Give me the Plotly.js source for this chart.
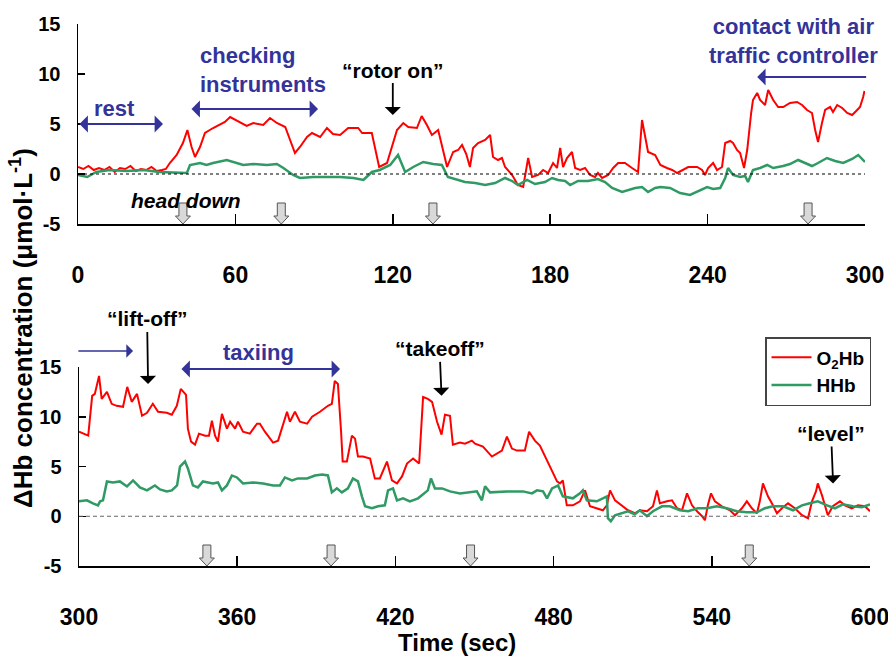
<!DOCTYPE html>
<html>
<head>
<meta charset="utf-8">
<script src="https://cdn.plot.ly/plotly-3.0.1.min.js"></script>
<style>html,body{margin:0;padding:0;background:#fff;}#chart{width:888px;height:656px;}</style>
</head>
<body>
<div id="chart"></div>
<script>
// ---------- DATA ----------
const topTime = [0,2,4,6,8,10,12,14,16,18,20,22,24,26,28,30,32,33.5,35,37.6,40,41.7,43.3,44.6,46.5,48.4,51.5,54,56,58,61.8,64.3,66.8,70.6,73.2,75.8,79,80.8,82.7,84.6,87.3,89.2,92.3,94.9,97.2,99.9,103,106.8,108.3,112,113.2,114.8,117.8,119.7,121.6,124,125.9,129.2,131,133,134.9,137.3,139.2,140.7,143,144.9,146.4,148,149.4,150.6,152.5,155.2,157.1,158.2,160.1,161.6,162.8,165.5,167.7,169.7,171.6,173.1,175.4,177.3,179.2,181.1,182.6,183.8,184.9,186.4,188.3,189.5,191.4,193.3,195.2,197.1,198.2,199.8,202.1,204,205.9,208.5,211.2,213.5,215,216.2,217.3,220,221.1,222,224.5,226.5,228.4,230.6,232.6,236,237.9,239,240.2,242.1,243.6,245.5,246.7,248.6,249.7,251.2,252.4,253.9,255.1,256.6,257.3,258.9,260,261.9,263.1,265,266.9,268.8,271.4,274.1,276,277.9,279.8,281,282.1,283.6,284.8,286.7,287.8,289.4,291.3,293.2,295.1,297,298.1,299.3,299.8];
const topO2Hb = [0.7,0.5,0.8,0.4,0.6,0.4,0.7,0.2,0.6,0.5,0.8,0.3,0.5,0.4,0.7,0.3,0.4,0.5,1.1,1.9,3.1,4.4,2.7,1.7,2.7,4.1,4.6,4.9,5.2,5.7,5.2,4.8,5.1,4.9,5.6,5.1,4.7,3.4,2.1,2.7,3.7,4.1,3.7,4.6,4.0,3.9,4.6,4.6,4.1,4.1,2.7,0.7,1.1,2.7,4.4,5.1,4.7,4.6,5.8,4.9,3.9,4.4,2.4,0.7,2.2,2.4,2.9,2.0,0.7,2.6,3.1,3.4,3.9,1.7,1.4,1.6,0.7,-0.1,-1.1,-1.3,1.6,-0.3,-0.1,0.4,0.1,1.1,0.6,2.6,0.7,1.6,2.2,0.6,0.4,0.6,-0.1,-0.3,0.1,-0.4,-0.1,0.6,1.1,1.1,0.6,0.2,5.4,3.7,2.2,1.9,1.4,0.9,0.6,0.4,0.1,0.4,0.7,0.7,0.4,-0.1,0.6,1.1,0.4,0.7,3.1,3.3,3.1,2.4,2.1,0.6,2.4,6.1,7.4,8.1,7.4,6.9,8.4,7.4,6.7,6.7,7.1,7.2,6.9,6.4,6.1,4.4,3.2,5.1,6.4,6.7,6.2,6.9,6.6,6.1,5.9,6.4,6.7,7.7,8.3];

const topHHbTime = [0,3.5,7,12,18.6,25,31,37.6,41.5,42.7,46.5,49,51.5,56.7,59,63,66.8,72,75.8,78.3,82,84.6,89.7,94.9,99.9,105,108.8,110,112,115,119,122,124.7,127.8,131.6,135.4,138.7,141,144.5,147.5,151.4,155.2,159,162.8,165.5,167.7,171.2,174.2,178,180.7,183,185.7,187.6,190.6,194.4,198.2,200.9,203.6,207.4,209.7,212.4,215,217.3,220,222,225.7,229.5,233.3,236,239.8,242.1,244.8,246.7,247.8,249.7,252.4,254.3,255.4,257.3,260,262.7,265,268.8,271.4,274.5,276.4,279.8,282.1,285.5,288.6,291.7,295.1,297.4,300];
const topHHb = [-0.1,-0.3,0.2,0.4,0.3,0.4,0.2,0.1,0.1,0.9,1.1,0.9,1.1,1.4,1.2,0.9,1.0,0.9,1.0,0.6,-0.1,-0.4,-0.3,-0.3,-0.3,-0.4,-0.6,-0.3,0.2,0.4,0.9,1.9,0.2,0.7,1.2,1.0,0.9,-0.3,-0.6,-0.8,-0.9,-1.1,-0.9,-0.4,-0.7,-1.1,-0.6,-1.0,-0.8,-0.4,-0.6,-0.7,-1.1,-0.7,-0.7,-0.5,-0.8,-1.4,-1.8,-1.6,-1.4,-1.3,-1.8,-1.4,-1.3,-1.4,-1.9,-2.1,-1.8,-1.3,-1.5,-1.4,-0.4,0.6,-0.1,-0.3,-0.2,-0.8,0.4,0.6,0.9,0.6,0.8,1.0,1.4,1.2,0.8,1.1,1.6,1.3,1.1,1.5,1.9,1.2];

const botTime = [300,303.5,305,306,307.6,308.6,310.6,312.4,314.3,316.7,318.3,320,322,323.9,325.8,328,330,333.3,335.2,337.1,338.6,340.6,341.3,342.5,344,345.5,347.8,349.3,350.4,351.6,352.7,354.2,356.1,357.3,359.2,360.3,362.2,364.8,367.5,368.6,370.5,373.6,375.5,378.9,380,381.9,383.8,386.5,388.4,391.4,394.4,395.9,397,398.2,399.4,400,401.6,403.5,404.7,405.8,407.7,410.4,412.2,414.1,416.8,418.7,420.6,422.5,424.4,426.7,429,430.5,432.3,433.9,435.8,437.5,438.8,439.9,440.7,441.8,444.5,446.4,449,450.2,453.2,456.6,458.5,460.4,462.3,464.2,466.1,469.1,470.7,472.9,474.8,477.5,479.7,481.3,482.4,483.5,485,487.3,490,491.9,493.8,496.4,498.7,500.2,501.4,503.3,505.9,508.2,510.8,512.7,515.4,517.7,519.2,520.3,523,524.9,526.8,528.7,530.6,532.5,534.4,536.3,537.4,538.5,539.7,541.2,543.8,546.9,548.8,551.4,553.3,555.2,557.1,558.2,559.4,561.3,563.2,564.7,566.6,568.9,571.5,574.2,576.5,578,579.5,580.2,581.8,584,585.9,588.6,590.5,593.1,595.4,598.1,600];
const botO2Hb = [8.5,8.1,12.1,12.3,14.1,11.8,12.5,11.3,11.1,11.0,13.0,11.5,12.3,10.1,10.4,11.3,10.5,10.4,10.2,11.1,12.8,12.2,8.8,7.5,7.2,8.3,8.1,8.1,9.6,8.1,7.5,10.3,8.8,9.5,8.8,9.5,8.5,8.3,9.3,9.3,8.5,7.4,7.6,10.5,9.5,10.5,9.5,9.3,10.0,10.5,11.1,11.3,13.6,13.3,8.5,5.5,5.5,8.1,7.8,6.0,6.0,5.8,3.8,3.8,5.5,3.6,3.3,4.0,5.3,5.8,5.3,12.0,11.8,11.5,9.5,8.2,10.2,10.1,10.1,7.2,7.4,7.3,7.6,7.3,7.0,6.0,6.3,6.6,8.0,6.8,6.6,6.6,8.5,7.6,7.1,5.6,4.5,3.5,3.3,3.6,1.1,1.1,1.5,2.6,1.0,0.8,0.6,1.1,2.6,1.6,1.1,0.6,0.3,0.6,0.5,1.0,2.6,1.3,1.5,1.6,0.8,0.6,2.3,1.1,0.5,0.0,-0.4,1.1,2.3,1.5,1.0,0.6,0.1,0.8,1.5,0.8,0.3,1.5,3.3,2.0,1.1,0.3,0.8,1.3,0.8,0.1,-0.2,1.5,2.5,3.3,2.1,0.1,1.0,1.5,1.1,0.8,1.1,1.0,0.5];

const botHHbTime = [300,303,305.3,307.2,308,309.1,310.6,312.9,315.5,318.2,320.5,323.1,325.8,328.8,330.7,333.3,335.2,337.2,338.3,340.2,341.3,343.2,345.1,347,350.8,352.7,354.2,356.1,358,359.9,362.2,366,369.8,373.6,376.2,378.1,380.8,383,386.5,389.5,392.2,394.4,395.9,397.8,399.7,402,403.9,405.8,407.3,408.5,411.1,413.4,416,417.2,419.1,420.6,422.9,425.5,428.6,431.2,432.3,433.5,435,437.7,440.7,444.5,448.3,450.9,452.8,454,455.9,462.3,468.4,471.8,473.7,476,477.5,479.4,481.7,483.5,487.3,490,491.1,492.6,496.4,498.7,500.2,500.6,501.7,503.3,505.9,508.2,510.8,512.7,515.4,517.7,521.1,524.1,527.9,531,534.7,538.1,541.9,545.7,549.5,553.3,557.1,560.1,563.2,567,570.8,574.2,577.2,580.2,583.7,586.7,589.7,593.5,596.9,600];
const botHHb = [1.5,1.6,1.3,1.1,1.5,1.6,3.5,3.4,3.5,3.0,3.6,2.9,2.6,3.1,2.7,2.5,2.6,3.1,5.0,5.5,4.8,3.1,2.9,3.5,3.3,3.4,2.6,3.1,4.1,3.9,3.3,3.4,3.3,3.1,3.1,3.9,3.6,3.8,3.8,4.1,4.2,4.1,2.4,2.8,2.4,2.8,3.8,3.5,2.0,1.0,0.8,1.0,1.1,2.6,2.8,1.6,1.8,1.5,1.8,2.3,2.6,3.8,2.8,2.8,2.5,2.3,2.4,2.5,1.6,3.0,2.4,2.5,2.5,2.3,2.6,2.5,1.8,2.8,3.1,2.0,1.8,2.3,2.6,1.6,1.5,1.8,2.0,-0.2,-0.5,0.1,0.3,0.5,0.2,0.6,0.0,0.5,1.0,1.0,0.6,0.5,0.8,0.8,1.0,0.8,0.5,0.4,0.4,0.8,1.0,1.0,0.6,1.1,1.3,1.5,1.1,0.8,1.2,1.0,0.9,1.2];

const topEventTimes = [40, 77.5, 135.3, 278.3];
const botEventTimes = [348.5, 395.6, 448.5, 554.2];

const topXTicks = [0, 60, 120, 180, 240, 300];
const botXTicks = [300, 360, 420, 480, 540, 600];
const yTicks = [-5, 0, 5, 10, 15];
const seriesNames = ['O<sub>2</sub>Hb', 'HHb'];

// ---------- STYLE ----------
const RED = '#ff0000', GREEN = '#2f9a63', BLUE = '#333399';
const FONT = 'Liberation Sans, Arial, Helvetica, sans-serif';

const traces = [
  {x: topTime, y: topO2Hb, xaxis: 'x', yaxis: 'y', mode: 'lines', line: {color: RED, width: 2}, name: seriesNames[0], showlegend: false, hoverinfo: 'skip'},
  {x: topHHbTime, y: topHHb, xaxis: 'x', yaxis: 'y', mode: 'lines', line: {color: GREEN, width: 2.5}, name: seriesNames[1], showlegend: false, hoverinfo: 'skip'},
  {x: botTime, y: botO2Hb, xaxis: 'x2', yaxis: 'y2', mode: 'lines', line: {color: RED, width: 2}, name: seriesNames[0], showlegend: true, hoverinfo: 'skip'},
  {x: botHHbTime, y: botHHb, xaxis: 'x2', yaxis: 'y2', mode: 'lines', line: {color: GREEN, width: 2.5}, name: seriesNames[1], showlegend: true, hoverinfo: 'skip'}
];

function xAxis(domain, range, ticks, anchor) {
  return {domain: domain, range: range, anchor: anchor, tickvals: ticks, ticktext: ticks.map(String),
    ticks: 'inside', ticklen: 10, tickwidth: 1.5, tickcolor: '#000', showline: true, linecolor: '#000', linewidth: 1.8,
    showgrid: false, zeroline: false, ticklabelstandoff: 30, ticklabeloverflow: 'allow',
    tickfont: {family: FONT, size: 23, color: '#000', weight: 700}, fixedrange: true};
}
function yAxis(domain, anchor) {
  return {domain: domain, range: [-5, 15], anchor: anchor, tickvals: yTicks, ticktext: yTicks.map(String),
    ticks: 'inside', ticklen: 7, tickwidth: 1.5, tickcolor: '#000', showline: true, linecolor: '#000', linewidth: 1.5,
    showgrid: false, zeroline: false, ticklabelstandoff: 12, ticklabeloverflow: 'allow',
    tickfont: {family: FONT, size: 20, color: '#000', weight: 700}, fixedrange: true};
}

function blockArrow(t, xref, yref) {
  return {type: 'path', xref: xref, yref: yref, xsizemode: 'pixel', ysizemode: 'pixel', xanchor: t, yanchor: -5,
    path: 'M-4,21 L4,21 L4,8 L7.5,8 L0,0 L-7.5,8 L-4,8 Z', fillcolor: '#d9d9d9', line: {color: '#555', width: 1}};
}

const shapes = [
  {type: 'line', xref: 'x', yref: 'y', x0: topXTicks[0], x1: topXTicks[topXTicks.length-1], y0: 0, y1: 0, line: {color: '#000', width: 1, dash: '3px,3px'}},
  {type: 'line', xref: 'x2', yref: 'y2', x0: botXTicks[0], x1: botXTicks[botXTicks.length-1], y0: 0, y1: 0, line: {color: '#666', width: 1.2, dash: '4px,3px'}}
].concat(topEventTimes.map(t => blockArrow(t, 'x', 'y')))
 .concat(botEventTimes.map(t => blockArrow(t, 'x2', 'y2')));

function label(text, x, y, xref, yref, color, size, extra) {
  return Object.assign({text: text, x: x, y: y, xref: xref, yref: yref, showarrow: false,
    font: {family: FONT, size: size, color: color, weight: 700}, xanchor: 'center', yanchor: 'middle'}, extra || {});
}
function span(x0, x1, y, xref, yref, both, w, s) {
  return {text: '', x: x1, y: y, ax: x0, ay: y, xref: xref, yref: yref, axref: xref, ayref: yref,
    showarrow: true, arrowside: both ? 'end+start' : 'end', arrowhead: 1, startarrowhead: 1,
    arrowsize: s, startarrowsize: s, arrowwidth: w, arrowcolor: BLUE};
}
function pointer(text, x, y, xref, yref, ax, ay) {
  return {text: text, x: x, y: y, xref: xref, yref: yref, ax: ax, ay: ay, showarrow: true,
    arrowhead: 1, arrowsize: 1.5, arrowwidth: 1.8, arrowcolor: '#000', standoff: 0,
    font: {family: FONT, size: 21, color: '#000', weight: 700}};
}

const annotations = [
  // top panel
  label('rest', 14.1, 6.6, 'x', 'y', BLUE, 22),
  span(0, 32.4, 5, 'x', 'y', true, 2, 1.4),
  label('checking<br>instruments', 45.7, 10.45, 'x', 'y', BLUE, 22, {xanchor: 'left', align: 'left'}),
  span(42.7, 91.5, 6.5, 'x', 'y', true, 2, 1.4),
  label('contact with air<br>traffic controller', 272.6, 13.35, 'x', 'y', BLUE, 22),
  span(301, 258.9, 9.7, 'x', 'y', false, 2, 1.4),
  label('head down', 41.2, -2.6, 'x', 'y', '#000', 21, {font: {family: FONT, size: 21, color: '#000', weight: 700, style: 'italic'}}),
  pointer('\u201crotor on\u201d', 120, 5.9, 'x', 'y', 0, -45),
  // bottom panel (labels above the axis range are placed in paper height)
  {text: '', x: 320.5, y: 1 - 351/656, xref: 'x2', yref: 'paper', ax: 299.2, ay: 0, axref: 'x2', ayref: 'pixel',
    showarrow: true, arrowhead: 1, arrowsize: 1.5, arrowwidth: 1.5, arrowcolor: BLUE},
  label('taxiing', 367.9, 1 - 352/656, 'x2', 'paper', BLUE, 22),
  span(338.3, 399, 14.8, 'x2', 'y2', true, 2, 1.4),
  pointer('\u201clift-off\u201d', 326.2, 13.3, 'x2', 'y2', -1, -65),
  pointer('\u201ctakeoff\u201d', 437.5, 12.1, 'x2', 'y2', -2, -47),
  pointer('\u201clevel\u201d', 586, 3.3, 'x2', 'y2', -2, -50),
  // axis titles
  {text: '\u0394Hb concentration (\u03bcmol\u00b7L<sup>-1</sup>)', xref: 'paper', yref: 'paper', x: 21/888, y: 1 - 328/656,
    showarrow: false, textangle: -90, xanchor: 'center', yanchor: 'middle',
    font: {family: FONT, size: 26, color: '#000', weight: 700}},
  {text: 'Time (sec)', xref: 'paper', yref: 'paper', x: 457/888, y: 1 - 642/656, showarrow: false,
    xanchor: 'center', yanchor: 'middle', font: {family: FONT, size: 24, color: '#000', weight: 700}}
];

const layout = {
  width: 888, height: 656, margin: {l: 0, r: 0, t: 0, b: 0}, paper_bgcolor: '#fff', plot_bgcolor: '#fff',
  xaxis: xAxis([78/888, 865/888], [0, 300], topXTicks, 'y'),
  yaxis: yAxis([1 - 224/656, 1 - 24/656], 'x'),
  xaxis2: xAxis([79/888, 870/888], [300, 600], botXTicks, 'y2'),
  yaxis2: yAxis([1 - 566/656, 1 - 367/656], 'x2'),
  showlegend: true,
  legend: {x: 765/888, y: 1 - 337/656, xanchor: 'left', yanchor: 'top', bgcolor: '#fff', bordercolor: '#444', borderwidth: 1.5,
    font: {family: FONT, size: 19, color: '#000', weight: 700}, tracegroupgap: 0, itemwidth: 40},
  shapes: shapes,
  annotations: annotations
};

Plotly.newPlot('chart', traces, layout, {displayModeBar: false, staticPlot: true});
</script>
</body>
</html>
